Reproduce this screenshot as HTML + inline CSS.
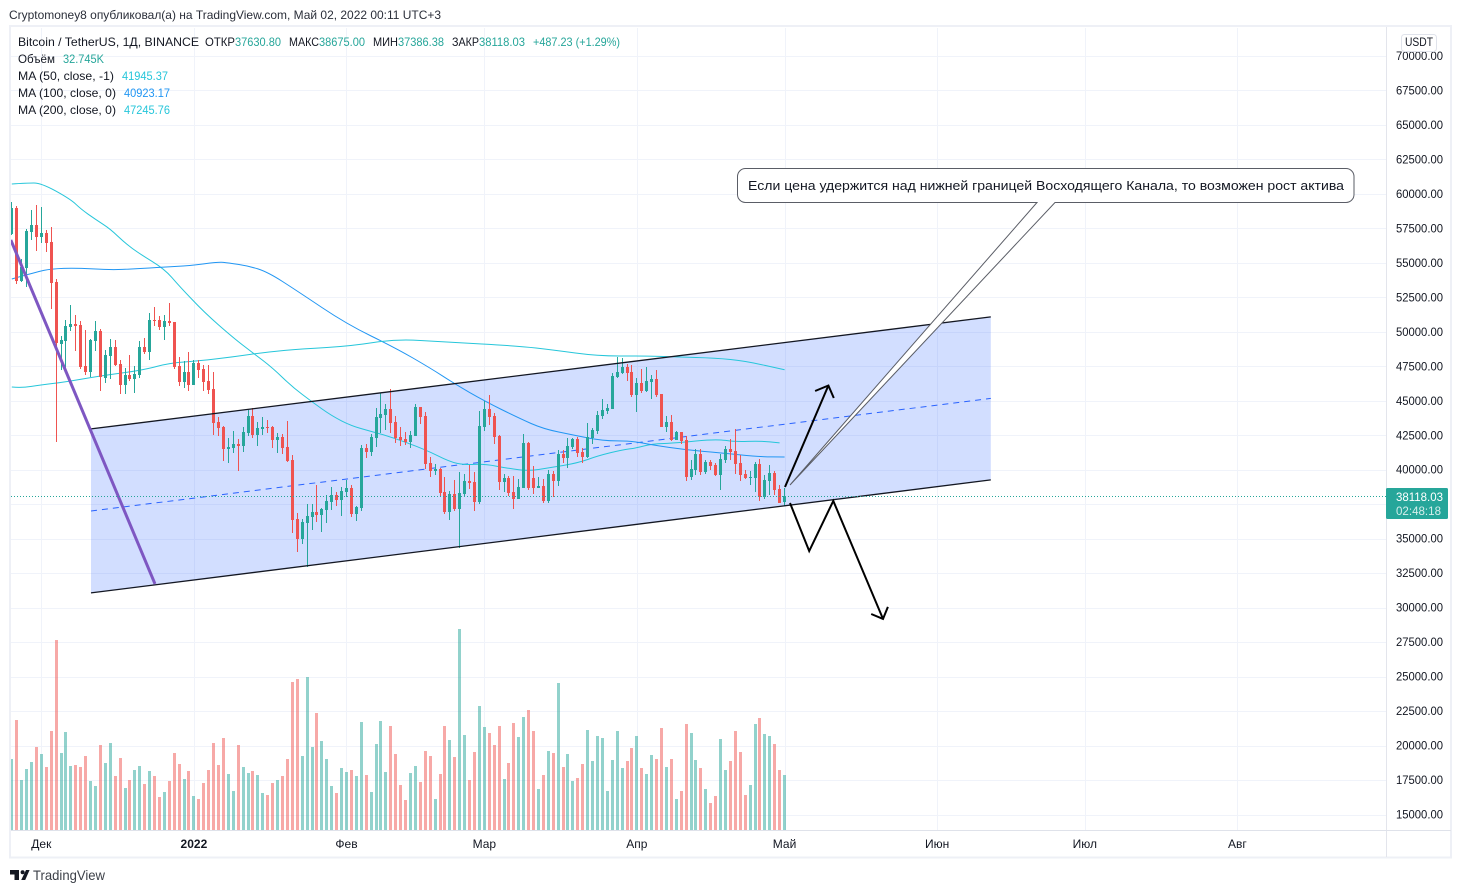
<!DOCTYPE html>
<html lang="ru">
<head>
<meta charset="utf-8">
<title>BTCUSDT chart</title>
<style>
html,body{margin:0;padding:0;background:#fff;}
svg{display:block;}
text{font-family:"Liberation Sans","DejaVu Sans",sans-serif;font-size:12px;fill:#131722;}
.g{fill:#26a69a;}
</style>
</head>
<body>
<svg id="chart" xmlns="http://www.w3.org/2000/svg" width="1462" height="893" viewBox="0 0 1462 893">
  <defs><clipPath id="pane"><rect x="11" y="28" width="1375" height="802"/></clipPath></defs>
  <rect x="10" y="26" width="1441" height="831.5" fill="#fff" stroke="#eef0f6" stroke-width="2"/>
  <g id="grid" clip-path="url(#pane)"></g>
  <g id="annoBack" clip-path="url(#pane)"></g>
  <g id="volumes" clip-path="url(#pane)"></g>
  <g id="mas" clip-path="url(#pane)"></g>
  <g id="candles" clip-path="url(#pane)"></g>
  <g id="annoFront" clip-path="url(#pane)"></g>
  <line id="lastLine" x1="11" x2="1386" stroke="#26a69a" stroke-width="1" stroke-dasharray="1 2"/>
  <path d="M745.5 168.5H1346a8 8 0 0 1 8 8V194.5a8 8 0 0 1-8 8H1055L790 485L1037 202.5H745.5a8 8 0 0 1-8-8V176.5a8 8 0 0 1 8-8Z" fill="#fff" stroke="#5a5d66" stroke-width="1"/>
  <text x="748" y="190" textLength="596" lengthAdjust="spacingAndGlyphs" style="font-size:13px">Если цена удержится над нижней границей Восходящего Канала, то возможен рост актива</text>

  <line x1="1386.5" x2="1386.5" y1="27" y2="857" stroke="#e3e5ec"/>
  <line x1="11" x2="1451" y1="830.5" y2="830.5" stroke="#dfe2ea"/>
  <g id="priceAxis"></g>
  <g id="timeAxis"></g>

  <rect x="1401.5" y="34.5" width="35" height="17" rx="3" fill="#fff" stroke="#e0e3eb"/>
  <text x="1405" y="46" textLength="28" lengthAdjust="spacingAndGlyphs">USDT</text>

  <rect x="1386" y="488" width="62" height="31" rx="1.5" fill="#26a69a"/>
  <text x="1396" y="501" textLength="47" lengthAdjust="spacingAndGlyphs" style="fill:#fff">38118.03</text>
  <text x="1396" y="515" textLength="45" lengthAdjust="spacingAndGlyphs" style="fill:#d4eeeb">02:48:18</text>

  <text x="9" y="19" textLength="432" lengthAdjust="spacingAndGlyphs" style="fill:#2a2e39">Cryptomoney8 опубликовал(а) на TradingView.com, Май 02, 2022 00:11 UTC+3</text>

  <g>
    <text x="18" y="46" textLength="181" lengthAdjust="spacingAndGlyphs">Bitcoin / TetherUS, 1Д, BINANCE</text>
    <text x="205" y="46" textLength="30" lengthAdjust="spacingAndGlyphs">ОТКР</text>
    <text class="g" x="235" y="46" textLength="46" lengthAdjust="spacingAndGlyphs">37630.80</text>
    <text x="289" y="46" textLength="30" lengthAdjust="spacingAndGlyphs">МАКС</text>
    <text class="g" x="319" y="46" textLength="46" lengthAdjust="spacingAndGlyphs">38675.00</text>
    <text x="373" y="46" textLength="25" lengthAdjust="spacingAndGlyphs">МИН</text>
    <text class="g" x="398" y="46" textLength="46" lengthAdjust="spacingAndGlyphs">37386.38</text>
    <text x="452" y="46" textLength="27" lengthAdjust="spacingAndGlyphs">ЗАКР</text>
    <text class="g" x="479" y="46" textLength="46" lengthAdjust="spacingAndGlyphs">38118.03</text>
    <text class="g" x="533" y="46" textLength="87" lengthAdjust="spacingAndGlyphs">+487.23 (+1.29%)</text>
    <text x="18" y="63" textLength="37" lengthAdjust="spacingAndGlyphs">Объём</text>
    <text class="g" x="63" y="63" textLength="41" lengthAdjust="spacingAndGlyphs">32.745K</text>
    <text x="18" y="80" textLength="96" lengthAdjust="spacingAndGlyphs">MA (50, close, -1)</text>
    <text x="122" y="80" textLength="46" lengthAdjust="spacingAndGlyphs" style="fill:#26c6da">41945.37</text>
    <text x="18" y="97" textLength="98" lengthAdjust="spacingAndGlyphs">MA (100, close, 0)</text>
    <text x="124" y="97" textLength="46" lengthAdjust="spacingAndGlyphs" style="fill:#2196f3">40923.17</text>
    <text x="18" y="114" textLength="98" lengthAdjust="spacingAndGlyphs">MA (200, close, 0)</text>
    <text x="124" y="114" textLength="46" lengthAdjust="spacingAndGlyphs" style="fill:#26c6da">47245.76</text>
  </g>

  <g>
    <path d="M10 870H19V880H14.5V874.5H10ZM26 870H29.6L25.2 880H21.2Z" fill="#131722"/>
    <circle cx="22.6" cy="872.2" r="2" fill="#131722"/>
    <text x="33" y="880" textLength="72" lengthAdjust="spacingAndGlyphs" style="font-size:14px;fill:#3c4048">TradingView</text>
  </g>
</svg>

<script>
// ---- candle data (one entry per day, from 25 Nov 2021) ----
const opens=[57090,58980,53710,54650,57260,57720,56900,57140,56510,53610,49140,49360,50350,50570,50500,47520,47110,49360,50040,46680,48250,48900,47670,46120,46870,46580,46870,48900,48540,50860,50860,50350,50790,50710,47520,46360,47090,46150,47740,47310,46440,45860,43460,43100,41500,41580,41870,41720,42670,43900,42520,42960,43100,
43100,42160,42380,41650,40710,36430,34980,36140,36580,36940,36720,37080,37660,38170,37810,38390,38680,36790,37230,41580,41290,42300,43750,43970,44410,43470,42380,42230,42010,42450,44550,43900,40490,39910,40060,38390,36940,38240,37160,38240,39190,39110,37660,43100,44410,43900,42450,39110,39400,38390,37880,
38680,41940,39400,38680,38820,37730,39690,39190,41140,40850,41650,42230,41290,40930,42300,42810,43900,44260,44410,46730,47020,47450,47090,45420,46290,45710,46360,46580,45490,43100,43460,42160,42740,42160,39480,39980,41140,39840,40560,40350,39620,40710,41510,41360,40490,39690,39400,39400,40420,38030,39190,39770,38610,37630.8];
const highs=[59420,59130,55280,57430,58830,59200,59050,57360,57600,53830,49700,50860,51950,51220,50790,50130,49460,50790,50210,48680,49480,49410,47960,47350,48320,47520,49310,49550,51340,51800,51150,51220,52090,50710,48180,47890,48540,47930,47930,47600,47600,47090,43830,43170,42300,42810,42230,43100,44330,44480,43460,43830,43610,
43170,42640,42600,43540,41070,36870,36430,37520,37520,38900,37230,38170,38750,38390,38750,39260,38900,37370,41800,41870,42600,44480,45570,44770,45860,43900,43100,42740,42810,44770,44550,44190,40930,40420,40130,39480,38460,39260,39840,39690,40350,39840,44260,44990,45420,44120,42520,39690,39550,39550,39330,
42590,42010,40270,39480,39330,39980,39910,41430,41430,42300,42300,42380,41580,43390,43030,44260,45130,44770,47020,48150,48100,47670,47600,46650,47310,47450,46870,47230,45490,43900,43970,42810,42740,42450,40710,41510,41510,40710,40710,40490,41140,41720,42230,42960,41070,39980,39910,40560,40780,39620,40350,39910,38900,38675];
const lows=[57020,53470,53640,53280,56660,55860,56440,55790,51680,42040,47230,47110,50090,48610,47310,46870,46700,48610,45710,46310,46580,47520,45490,45490,46440,45570,46650,48390,47960,50420,50130,49410,50420,47310,46070,45930,45710,46150,46650,45710,45490,42520,42450,40630,40490,41210,39900,41290,42450,42300,41720,42520,42640,
41580,41220,41140,40560,35420,34040,34620,32980,35630,36210,35490,36140,37080,37370,36650,38030,36580,36290,37010,40850,41000,41650,42670,42880,42670,41940,41720,41800,41580,42450,43320,40060,39480,39620,38030,36790,36360,37010,34330,38100,38610,37010,37520,42810,43250,41870,38530,38390,38100,37160,37880,
38680,38530,38240,38680,37590,37590,38030,38820,40490,40130,41510,40930,40490,40850,41870,42590,43680,44040,44410,46650,46940,46440,45280,44190,45570,45640,45130,45280,43100,42740,42090,42160,41870,39190,39260,39620,39620,39690,39980,39550,38530,40490,40710,39690,39190,39330,38900,38390,37740,37880,38170,38170,37590,37386.38];
const closes=[58980,53710,54680,57310,57720,56900,57140,56470,53570,49170,49380,50420,50570,50450,47480,47110,49410,50040,46700,48320,48900,47600,46120,46870,46580,46920,48900,48540,50860,50790,50350,50790,50640,47430,46360,47090,46150,47740,47230,46360,45780,43390,43030,41500,41650,41870,41720,42740,43900,42520,43030,43100,43030,
42180,42380,41580,40640,36360,34980,36210,36650,36940,36720,37160,37740,38170,37810,38460,38680,36790,37300,41580,41290,42380,43830,44040,44410,43390,42300,42160,42010,42520,44550,43830,40420,39910,40060,38320,36940,38240,37160,38320,39190,39040,37660,43170,44410,43830,42380,39110,39400,38320,37880,38750,
41940,38680,38680,38820,37730,39690,39190,41140,40850,41720,42230,41220,40930,42380,42880,43970,44330,44480,46800,47090,47450,47020,45420,46290,45710,46440,46580,45420,43100,43460,42160,42740,42090,39480,40060,41140,39840,40560,40270,39620,40780,41510,41290,40420,39620,39400,39480,40420,38030,39260,39770,38530,37590,38118.03];
const volumes=[42.2,65.4,29.7,36.3,40.5,49.4,45.2,37.5,58.9,113.0,45.8,58.3,38.1,38.7,37.5,44.0,29.2,26.2,50.6,39.9,51.8,32.1,42.8,25.0,29.7,35.7,38.1,27.4,35.1,32.1,19.6,22.6,29.2,45.8,39.3,30.3,35.1,20.2,18.4,28.0,35.7,51.8,38.7,54.7,33.3,23.2,50.6,37.5,33.9,35.1,32.7,22.0,20.8,
28.0,29.7,32.1,42.2,88.0,89.8,44.0,91.0,49.4,69.6,52.9,42.2,26.2,22.0,36.9,34.5,35.7,32.1,64.2,32.7,22.6,51.2,64.8,34.5,61.9,45.2,26.8,17.8,33.9,38.1,28.6,47.0,44.0,18.4,33.3,61.9,53.5,43.4,119.6,56.5,29.7,46.4,73.8,61.3,57.7,50.6,61.9,30.3,39.9,63.7,55.3,
67.2,71.4,58.9,24.4,32.7,47.0,45.8,87.5,37.5,45.2,29.2,30.9,39.3,59.5,41.0,55.9,54.7,23.2,41.6,58.9,36.9,41.0,48.8,55.9,36.9,33.3,44.6,42.2,60.7,37.5,42.2,18.4,23.2,63.1,57.7,41.6,36.9,24.4,16.1,20.2,54.1,35.7,41.0,58.9,46.4,20.8,26.8,63.1,66.6,57.1,55.9,51.2,35.7,32.745];

// ---- moving averages sampled by day index ----
const ma50Days=[0,3,6,12,14,17,20,23,26,31,34,39,45,49,53,57,61,65,69,73,77,84,89,92,96,101,105,109,115,119,124,127,130,135,143,147,152,156];
const ma50Values=[60720,60790,60790,59600,58910,58150,57460,56440,55650,54560,53330,51440,49560,48470,47380,46000,44920,43900,43180,42780,42380,41470,40570,40350,40420,40090,39910,40130,40490,41000,41440,41580,41870,41940,42230,42020,42090,41945];
const ma100Days=[0,5,8,13,20,25,31,36,42,44,48,52,58,68,78,85,90,96,103,108,114,120,126,130,137,144,152,157];
const ma100Values=[53830,54340,54560,54630,54490,54560,54700,54780,55070,54990,54780,54340,52960,50570,48830,47380,46220,44990,43750,42960,42520,42090,42090,41800,41440,41220,40930,40923];
const ma200Days=[0,2,6,11,18,27,32,38,45,52,59,69,78,88,103,110,119,128,135,143,149,157];
const ma200Values=[46000,45930,46150,46370,46800,47240,47740,47890,48180,48540,48760,48970,49480,49260,48970,48680,48250,48250,48180,48100,47890,47245];

// ---- axes ----
const priceTicks=[70000,67500,65000,62500,60000,57500,55000,52500,50000,47500,45000,42500,40000,37500,35000,32500,30000,27500,25000,22500,20000,17500,15000];
const monthLabels=["Дек","2022","Фев","Мар","Апр","Май","Июн","Июл","Авг"];
const monthDays=[6,37,68,96,127,157,188,218,249];
const lastPrice=38118.03;

// ---- drawing anchors as [day, price] ----
const channelTop=[[16.1,42960],[198.9,51080]];
const channelBottom=[[16.1,31070],[198.9,39260]];
const channelMiddle=[[16.1,37010],[198.9,45170]];
const trendLine=[[-0.2,56660],[29.1,31720]];
const arrowUp=[[157.1,38750],[165.9,46110]];
const arrowUpHead=[[163.2,45710],[165.9,46110],[167,45200]];
const arrowDown=[[158.1,37590],[162,34110],[166.9,37740],[177,29180]];
const arrowDownHead=[[174.6,29540],[177,29180],[178,30050]];

// ---- scales ----
const xOf=d=>11.8+4.922*d;
const yOf=p=>56+(70000-p)*(758.5/55000);
const volBase=830;
const volH=v=>v/0.595;

const NS='http://www.w3.org/2000/svg';
const mk=(tag,parent)=>{const e=document.createElementNS(NS,tag);parent.appendChild(e);return e;};
const byId=id=>document.getElementById(id);
const pts=a=>a.map(p=>xOf(p[0]).toFixed(1)+','+yOf(p[1]).toFixed(1)).join(' ');

const lastLine=byId('lastLine');
lastLine.setAttribute('y1',Math.round(yOf(lastPrice))+0.5);
lastLine.setAttribute('y2',Math.round(yOf(lastPrice))+0.5);

// grid + axis labels
priceTicks.forEach(p=>{
  const y=Math.round(yOf(p))+0.5;
  const l=mk('line',byId('grid'));
  
  
  l.setAttribute('x1',11);l.setAttribute('x2',1386);l.setAttribute('y1',y);l.setAttribute('y2',y);
  l.setAttribute('stroke','#f0f3fa');
  const t=mk('text',byId('priceAxis'));
  
  
  t.setAttribute('x',1396);t.setAttribute('y',yOf(p)+4);
  t.setAttribute('textLength',47);t.setAttribute('lengthAdjust','spacingAndGlyphs');
  t.textContent=p.toFixed(2);
});
monthDays.forEach((d,i)=>{
  const x=Math.round(xOf(d))+0.5;
  const l=mk('line',byId('grid'));
  
  
  l.setAttribute('x1',x);l.setAttribute('x2',x);l.setAttribute('y1',28);l.setAttribute('y2',830);
  l.setAttribute('stroke','#f0f3fa');
  const t=mk('text',byId('timeAxis'));
  
  
  t.setAttribute('x',xOf(d));t.setAttribute('y',848);t.setAttribute('text-anchor','middle');
  if(monthLabels[i]==='2022')t.setAttribute('font-weight','bold');
  t.textContent=monthLabels[i];
});

// channel fill
const chan=mk('polygon',byId('annoBack'));


chan.setAttribute('points',pts(channelTop.concat(channelBottom.slice().reverse())));
chan.setAttribute('fill','rgba(41,98,255,0.21)');
const mid=mk('polyline',byId('annoBack'));


mid.setAttribute('points',pts(channelMiddle));
mid.setAttribute('fill','none');mid.setAttribute('stroke','#2962ff');mid.setAttribute('stroke-dasharray','6 5');

// volume
volumes.forEach((v,i)=>{
  const up=closes[i]>=opens[i];
  const x=Math.floor(xOf(i))-1;
  const r=mk('rect',byId('volumes'));
  
  
  r.setAttribute('x',x);r.setAttribute('width',3);
  r.setAttribute('y',Math.round(volBase-volH(v)));r.setAttribute('height',Math.round(volH(v)));
  r.setAttribute('fill',up?'rgba(38,166,154,0.5)':'rgba(239,83,80,0.5)');
});

// moving averages, drawn as smooth curves through midpoints of the sampled readings
const smoothPath=(days,vals)=>{
  const P=days.map((d,i)=>[xOf(d),yOf(vals[i])]);
  let s='M'+P[0][0].toFixed(1)+' '+P[0][1].toFixed(1);
  for(let i=1;i<P.length-1;i++){
    const mx=(P[i][0]+P[i+1][0])/2,my=(P[i][1]+P[i+1][1])/2;
    s+='Q'+P[i][0].toFixed(1)+' '+P[i][1].toFixed(1)+' '+mx.toFixed(1)+' '+my.toFixed(1);
  }
  const e=P[P.length-1];
  return s+'L'+e[0].toFixed(1)+' '+e[1].toFixed(1);
};
[[ma50Days,ma50Values,'#26c6da','ma-50-line'],[ma100Days,ma100Values,'#2196f3','ma-100-line'],[ma200Days,ma200Values,'#26c6da','ma-200-line']].forEach(s=>{
  const l=mk('path',byId('mas'));
  
  
  l.setAttribute('d',smoothPath(s[0],s[1]));
  l.setAttribute('fill','none');l.setAttribute('stroke',s[2]);l.setAttribute('stroke-width',1);
});

// candles
opens.forEach((o,i)=>{
  const c=closes[i],up=c>=o,col=up?'#26a69a':'#ef5350';
  const xc=Math.floor(xOf(i));
  const w=mk('rect',byId('candles'));
  
  
  w.setAttribute('x',xc);w.setAttribute('width',1);
  w.setAttribute('y',Math.round(yOf(highs[i])));w.setAttribute('height',Math.round(yOf(lows[i]))-Math.round(yOf(highs[i])));
  w.setAttribute('fill',col);
  const b=mk('rect',byId('candles'));
  
  
  b.setAttribute('x',xc-1);b.setAttribute('width',3);
  const top=Math.round(yOf(Math.max(o,c))),bot=Math.round(yOf(Math.min(o,c)));
  b.setAttribute('y',top);b.setAttribute('height',Math.max(1,bot-top));
  b.setAttribute('fill',col);
});

// drawings
[[channelTop,'#131722',1.3,'channel-top-line'],[channelBottom,'#131722',1.3,'channel-bottom-line'],[trendLine,'#7e57c2',3,'descending-trend-line'],[arrowUp,'#000',2,'arrow-up-shaft'],[arrowUpHead,'#000',2,'arrow-up-head'],[arrowDown,'#000',2,'arrow-down-path'],[arrowDownHead,'#000',2,'arrow-down-head']].forEach(s=>{
  const l=mk('polyline',byId('annoFront'));
  
  
  l.setAttribute('points',pts(s[0]));
  l.setAttribute('fill','none');l.setAttribute('stroke',s[1]);l.setAttribute('stroke-width',s[2]);
});
</script>
</body>
</html>
